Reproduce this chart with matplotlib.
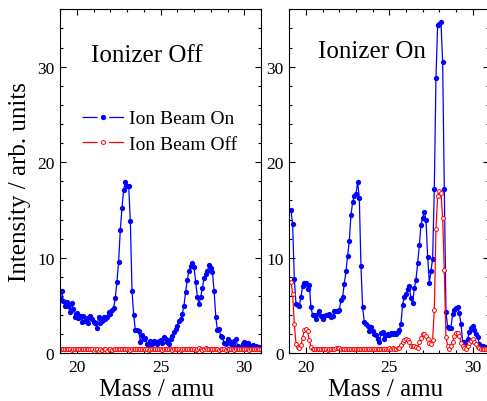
import numpy as np
import matplotlib
matplotlib.use('Agg')
import matplotlib.pyplot as plt
from matplotlib.lines import Line2D
from matplotlib.ticker import MultipleLocator

# mass scale of the spectra (0.1 amu steps)
mass_off = np.linspace(19.0, 31.0, 121)
mass_on = np.linspace(19.1, 31.0, 120)

# ionizer off
beam_on_ioff = [
    5.8, 6.5, 5.5, 4.9, 5.4, 4.9, 4.3, 5.3, 4.6, 3.8,
    4.2, 3.7, 3.9, 3.3, 3.9, 3.4, 3.7, 3.2, 3.9, 3.6,
    3.3, 3.2, 2.6, 3.8, 3.2, 3.4, 3.8, 3.6, 3.8, 4.3,
    4.1, 4.5, 4.7, 5.8, 7.5, 9.6, 12.9, 15.2, 17.1, 17.9,
    17.5, 17.5, 13.8, 6.5, 4.0, 2.4, 2.4, 2.3, 1.2, 1.9,
    1.5, 1.6, 1.0, 0.8, 1.3, 1.0, 1.3, 1.2, 1.0, 1.3,
    1.4, 1.1, 1.7, 1.45, 1.2, 1.0, 1.5, 1.85, 2.2, 2.5,
    2.9, 3.4, 3.6, 4.1, 5.0, 6.4, 7.7, 8.65, 9.1, 9.4,
    9.0, 7.5, 5.9, 5.2, 5.9, 6.8, 7.9, 8.3, 8.6, 9.25,
    8.9, 8.55, 6.5, 3.8, 2.4, 2.5, 1.8, 1.7, 1.1, 1.0,
    1.5, 1.3, 1.0, 0.9, 1.3, 1.5, 0.8, 0.7, 0.6, 1.0,
    1.2, 1.0, 1.1, 0.7, 0.8, 0.9, 0.7, 0.8, 0.6, 0.7,
    0.6]
beam_off_ioff = [
    0.45, 0.5, 0.4, 0.45, 0.4, 0.4, 0.45, 0.35, 0.4, 0.4,
    0.45, 0.4, 0.4, 0.45, 0.5, 0.45, 0.4, 0.45, 0.5, 0.4,
    0.25, 0.4, 0.45, 0.2, 0.4, 0.35, 0.5, 0.4, 0.25, 0.45,
    0.5, 0.35, 0.45, 0.4, 0.45, 0.5, 0.4, 0.4, 0.45, 0.4,
    0.45, 0.4, 0.35, 0.4, 0.45, 0.4, 0.4, 0.45, 0.4, 0.4,
    0.45, 0.4, 0.4, 0.35, 0.45, 0.5, 0.4, 0.4, 0.45, 0.4,
    0.4, 0.35, 0.45, 0.4, 0.4, 0.45, 0.4, 0.35, 0.4, 0.45,
    0.4, 0.4, 0.35, 0.45, 0.4, 0.4, 0.45, 0.5, 0.4, 0.45,
    0.4, 0.3, 0.45, 0.55, 0.4, 0.35, 0.5, 0.6, 0.45, 0.4,
    0.5, 0.4, 0.45, 0.4, 0.4, 0.35, 0.4, 0.45, 0.4, 0.35,
    0.4, 0.45, 0.4, 0.4, 0.35, 0.4, 0.45, 0.4, 0.4, 0.45,
    0.4, 0.4, 0.45, 0.35, 0.4, 0.4, 0.45, 0.4, 0.4, 0.45,
    0.4]

# ionizer on
beam_on_ion = [
    15.0, 13.5, 7.8, 5.2, 5.1, 5.0, 5.9, 7.0, 7.4, 7.4,
    6.7, 7.2, 4.8, 4.0, 4.0, 3.6, 4.1, 4.4, 3.9, 3.6,
    3.9, 4.0, 4.0, 4.1, 3.8, 3.9, 4.4, 4.4, 4.4, 4.5,
    5.6, 5.9, 7.3, 8.6, 10.2, 11.8, 14.5, 15.8, 16.5, 16.7,
    17.9, 16.3, 9.1, 4.8, 3.3, 3.1, 2.9, 2.3, 2.8, 2.3,
    2.0, 1.9, 1.5, 1.2, 2.1, 2.2, 1.5, 1.9, 2.0, 1.9,
    2.1, 2.0, 2.1, 2.0, 2.2, 2.4, 3.1, 5.1, 5.9, 6.2,
    6.7, 7.0, 5.8, 5.3, 6.8, 7.7, 9.4, 11.3, 13.4, 14.2,
    14.8, 14.0, 10.1, 7.4, 8.6, 9.9, 17.2, 28.8, 34.4, 34.5,
    34.7, 30.5, 17.2, 4.3, 2.8, 2.6, 2.7, 4.1, 4.5, 4.7,
    4.8, 4.2, 3.1, 1.2, 1.2, 1.0, 1.5, 2.2, 2.6, 2.9,
    2.4, 2.0, 1.7, 1.0, 0.8, 0.8, 0.6, 0.7, 0.6, 0.6]
beam_off_ion = [
    7.5, 6.2, 3.1, 1.0, 0.65, 0.55, 0.85, 1.6, 2.4, 2.5,
    2.3, 1.35, 0.65, 0.5, 0.45, 0.45, 0.4, 0.45, 0.4, 0.45,
    0.4, 0.45, 0.35, 0.4, 0.45, 0.5, 0.45, 0.55, 0.6, 0.55,
    0.5, 0.45, 0.5, 0.45, 0.4, 0.45, 0.5, 0.45, 0.45, 0.4,
    0.45, 0.45, 0.4, 0.45, 0.4, 0.45, 0.4, 0.45, 0.5, 0.45,
    0.45, 0.4, 0.45, 0.5, 0.45, 0.45, 0.5, 0.45, 0.5, 0.55,
    0.5, 0.55, 0.5, 0.5, 0.55, 0.6, 0.9, 1.2, 1.4, 1.45,
    1.4, 1.15, 0.8, 0.8, 0.75, 0.7, 0.6, 1.2, 1.6, 2.0,
    2.0, 1.8, 1.5, 1.1, 1.0, 1.4, 4.5, 13.0, 16.5, 17.0,
    16.8, 14.2, 8.7, 1.7, 0.8, 0.5, 0.8, 1.2, 1.8, 2.1,
    2.1, 1.8, 1.1, 0.8, 0.55, 0.5, 0.8, 1.1, 1.3, 1.45,
    1.2, 1.0, 0.7, 0.55, 0.5, 0.45, 0.45, 0.45, 0.45, 0.45]

plt.rcParams['font.family'] = 'Liberation Serif'
plt.rcParams['lines.scale_dashes'] = False

fig = plt.figure(figsize=(4.87, 4.02), dpi=100)
ax_off = fig.add_axes([60 / 487, 47.7 / 402, 201 / 487, 344 / 402])
ax_on = fig.add_axes([289.3 / 487, 47.7 / 402, 200 / 487, 344 / 402])

panels = [(ax_off, mass_off, beam_on_ioff, beam_off_ioff, 'Ionizer Off', 0.153, 0.85),
          (ax_on, mass_on, beam_on_ion, beam_off_ion, 'Ionizer On', 0.142, 0.862)]

for ax, m, on, off, title, tx, ty in panels:
    ax.plot(m, on, '-o', color='blue', lw=0.9, ms=3.8, mew=0)
    ax.plot(m, off, '-o', color='red', lw=0.9, ms=2.8, mfc='white', mew=0.7)
    ax.set_xlim(19, 31)
    ax.set_ylim(0, 36)
    ax.xaxis.set_major_locator(MultipleLocator(5))
    ax.xaxis.set_minor_locator(MultipleLocator(1))
    ax.yaxis.set_major_locator(MultipleLocator(10))
    ax.yaxis.set_minor_locator(MultipleLocator(2))
    ax.tick_params(which='both', direction='in', top=True, right=True,
                   labelsize=12.5, width=0.8)
    ax.tick_params(which='major', length=4.5, pad=4)
    ax.tick_params(which='minor', length=2.5)
    ax.set_xlabel('Mass / amu', fontsize=18)
    ax.xaxis.set_label_coords(0.48, -0.072)
    ax.text(tx, ty, title, transform=ax.transAxes, fontsize=18, va='baseline')

ax_off.set_ylabel('Intensity / arb. units', fontsize=18)
ax_off.yaxis.set_label_coords(-0.145, 0.5)

# legend handles: broken line with the marker in the gap
h_on = (Line2D([], [], color='blue', lw=0.9, ls=(0, (10.8, 8.4))),
        Line2D([], [], color='blue', marker='o', ms=3.8, mew=0, ls='none'))
h_off = (Line2D([], [], color='red', lw=0.9, ls=(0, (10.8, 8.4))),
         Line2D([], [], color='red', marker='o', ms=2.8, mfc='white', mew=0.7, ls='none'))
ax_off.legend([h_on, h_off], ['Ion Beam On', 'Ion Beam Off'],
              loc='center left', bbox_to_anchor=(0.109, 0.645), frameon=False,
              fontsize=14, handlelength=2.14, handletextpad=0.3,
              labelspacing=0.42, borderpad=0, borderaxespad=0)

plt.savefig('out.png', dpi=100)
